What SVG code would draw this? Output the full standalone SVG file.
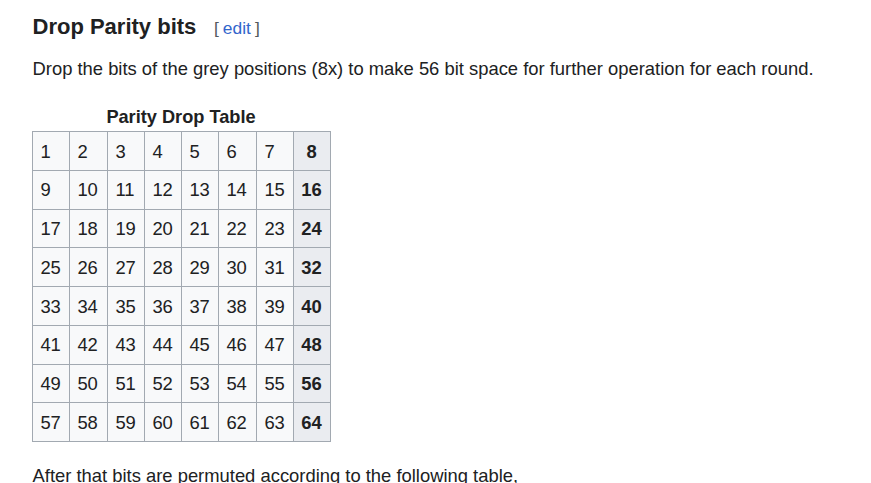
<svg xmlns="http://www.w3.org/2000/svg" width="871" height="483" viewBox="0 0 871 483">
<style>
text{font-family:"Liberation Sans",Arial,sans-serif;fill:#202122}
.h{font-size:22px;font-weight:bold}
.b{font-size:18.4px}
.br{font-size:17.4px;fill:#54595d}
.ed{font-size:17.4px;fill:#3366cc}
.cap{font-size:18.2px;font-weight:bold;text-anchor:middle}
.td{fill:#f8f9fa}
.th{fill:#eaecf0}
.c{font-size:18.4px}
.t{font-size:18.4px;font-weight:bold;text-anchor:middle}
.ln{stroke:#a2a9b1;stroke-width:1;fill:none}
</style>
<rect width="871" height="483" fill="#ffffff"/>
<text class="h" x="32.5" y="34">Drop Parity bits</text>
<text x="214" y="33.5"><tspan class="br">[</tspan><tspan class="ed" dx="4">edit</tspan><tspan class="br" dx="4">]</tspan></text>
<text class="b" x="32.5" y="75">Drop the bits of the grey positions (8x) to make 56 bit space for further operation for each round.</text>
<text class="cap" x="181" y="123">Parity Drop Table</text>
<g id="table">
<rect class="td" x="32" y="131" width="261" height="310"/>
<rect class="th" x="293" y="131" width="37" height="310"/>
<g id="row1"><text class="c" x="40.4" y="157.5">1</text><text class="c" x="77.4" y="157.5">2</text><text class="c" x="115.4" y="157.5">3</text><text class="c" x="152.4" y="157.5">4</text><text class="c" x="189.4" y="157.5">5</text><text class="c" x="226.4" y="157.5">6</text><text class="c" x="264.4" y="157.5">7</text><text class="t" x="311.5" y="157.5">8</text></g>
<g id="row2"><text class="c" x="40.4" y="196.3">9</text><text class="c" x="77.4" y="196.3">10</text><text class="c" x="115.4" y="196.3">11</text><text class="c" x="152.4" y="196.3">12</text><text class="c" x="189.4" y="196.3">13</text><text class="c" x="226.4" y="196.3">14</text><text class="c" x="264.4" y="196.3">15</text><text class="t" x="311.5" y="196.3">16</text></g>
<g id="row3"><text class="c" x="40.4" y="235">17</text><text class="c" x="77.4" y="235">18</text><text class="c" x="115.4" y="235">19</text><text class="c" x="152.4" y="235">20</text><text class="c" x="189.4" y="235">21</text><text class="c" x="226.4" y="235">22</text><text class="c" x="264.4" y="235">23</text><text class="t" x="311.5" y="235">24</text></g>
<g id="row4"><text class="c" x="40.4" y="273.8">25</text><text class="c" x="77.4" y="273.8">26</text><text class="c" x="115.4" y="273.8">27</text><text class="c" x="152.4" y="273.8">28</text><text class="c" x="189.4" y="273.8">29</text><text class="c" x="226.4" y="273.8">30</text><text class="c" x="264.4" y="273.8">31</text><text class="t" x="311.5" y="273.8">32</text></g>
<g id="row5"><text class="c" x="40.4" y="312.5">33</text><text class="c" x="77.4" y="312.5">34</text><text class="c" x="115.4" y="312.5">35</text><text class="c" x="152.4" y="312.5">36</text><text class="c" x="189.4" y="312.5">37</text><text class="c" x="226.4" y="312.5">38</text><text class="c" x="264.4" y="312.5">39</text><text class="t" x="311.5" y="312.5">40</text></g>
<g id="row6"><text class="c" x="40.4" y="351.3">41</text><text class="c" x="77.4" y="351.3">42</text><text class="c" x="115.4" y="351.3">43</text><text class="c" x="152.4" y="351.3">44</text><text class="c" x="189.4" y="351.3">45</text><text class="c" x="226.4" y="351.3">46</text><text class="c" x="264.4" y="351.3">47</text><text class="t" x="311.5" y="351.3">48</text></g>
<g id="row7"><text class="c" x="40.4" y="390">49</text><text class="c" x="77.4" y="390">50</text><text class="c" x="115.4" y="390">51</text><text class="c" x="152.4" y="390">52</text><text class="c" x="189.4" y="390">53</text><text class="c" x="226.4" y="390">54</text><text class="c" x="264.4" y="390">55</text><text class="t" x="311.5" y="390">56</text></g>
<g id="row8"><text class="c" x="40.4" y="428.8">57</text><text class="c" x="77.4" y="428.8">58</text><text class="c" x="115.4" y="428.8">59</text><text class="c" x="152.4" y="428.8">60</text><text class="c" x="189.4" y="428.8">61</text><text class="c" x="226.4" y="428.8">62</text><text class="c" x="264.4" y="428.8">63</text><text class="t" x="311.5" y="428.8">64</text></g>
<path class="ln" d="M32.5 131V441.5M69.5 131V441.5M107.5 131V441.5M144.5 131V441.5M181.5 131V441.5M218.5 131V441.5M256.5 131V441.5M293.5 131V441.5M330.5 131V441.5"/>
<path class="ln" d="M32 131.5H331M32 170.5H331M32 209.5H331M32 247.5H331M32 286.5H331M32 325.5H331M32 364.5H331M32 402.5H331M32 441.5H331"/>
</g>
<text class="b" x="32.5" y="481.5">After that bits are permuted according to the following table,</text>
</svg>
